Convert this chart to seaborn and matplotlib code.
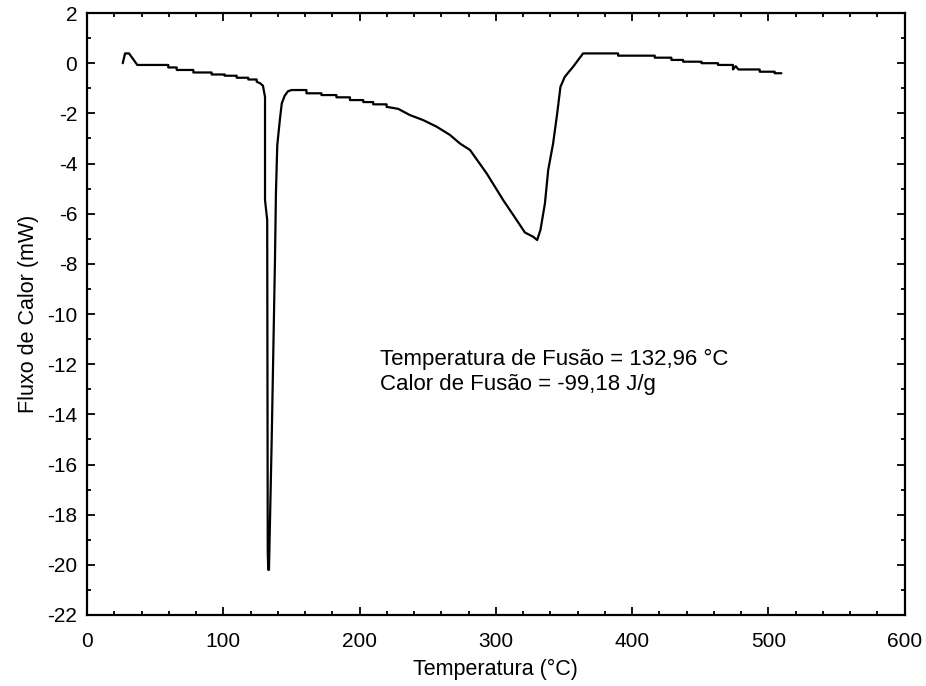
import matplotlib
matplotlib.use("Agg")
import matplotlib.pyplot as plt
import seaborn as sns
import pandas as pd
from matplotlib.ticker import MultipleLocator

temperatura = [26.2, 27.9, 30.8, 36.9, 59.6, 59.6, 65.8, 65.8, 78.0, 78.0, 91.4, 91.4,
               101.0, 101.0, 109.8, 109.8, 118.3, 118.3, 124.5, 124.5, 127.0, 129.1,
               130.6, 130.6, 132.2, 132.6, 133.0, 133.5, 135.5, 137.9, 138.6, 139.6,
               141.6, 142.9, 145.0, 147.4, 150.1, 161.0, 161.0, 172.0, 172.0, 183.0,
               183.0, 192.9, 192.9, 202.7, 202.7, 210.0, 210.0, 219.8, 219.8, 228.3,
               237.0, 246.7, 256.5, 266.3, 273.6, 281.0, 293.2, 305.4, 315.2, 321.3,
               327.4, 330.3, 332.7, 336.0, 338.4, 342.0, 345.0, 347.4, 350.6, 356.7,
               360.4, 364.0, 389.7, 389.7, 416.6, 416.6, 428.8, 428.8, 437.4, 437.4,
               450.9, 450.9, 463.0, 463.0, 474.0, 474.0, 476.0, 478.0, 493.6, 493.6,
               504.6, 504.6, 509.5]
fluxo = [0.0, 0.39, 0.39, -0.07, -0.07, -0.17, -0.17, -0.27, -0.27, -0.37, -0.37, -0.45,
         -0.45, -0.5, -0.5, -0.58, -0.58, -0.65, -0.65, -0.74, -0.8, -0.9,
         -1.35, -5.46, -6.25, -19.5, -20.2, -20.2, -15.0, -7.85, -5.2, -3.26,
         -2.2, -1.6, -1.3, -1.12, -1.07, -1.07, -1.2, -1.2, -1.27, -1.27,
         -1.36, -1.36, -1.47, -1.47, -1.55, -1.55, -1.64, -1.64, -1.74, -1.82,
         -2.07, -2.27, -2.53, -2.86, -3.2, -3.46, -4.39, -5.46, -6.25, -6.75,
         -6.92, -7.05, -6.65, -5.59, -4.26, -3.2, -2.0, -0.94, -0.54, -0.14,
         0.13, 0.39, 0.39, 0.30, 0.30, 0.22, 0.22, 0.13, 0.13, 0.06,
         0.06, 0.0, 0.0, -0.07, -0.07, -0.25, -0.12, -0.25, -0.25, -0.34,
         -0.34, -0.4, -0.4]

anotacao = ["Temperatura de Fusão = 132,96 °C", "Calor de Fusão = -99,18 J/g"]

sns.set_style("white")
plt.rcParams['font.family'] = ['Liberation Sans', 'DejaVu Sans']
plt.rcParams['axes.unicode_minus'] = False
plt.rcParams['text.color'] = 'black'
plt.rcParams['axes.labelcolor'] = 'black'
plt.rcParams['xtick.color'] = 'black'
plt.rcParams['ytick.color'] = 'black'

df = pd.DataFrame({"Temperatura": temperatura, "Fluxo": fluxo})

fig = plt.figure(figsize=(9.26, 6.86), dpi=100)
ax = fig.add_axes([0.094, 0.1035, 0.883, 0.8775])
sns.lineplot(data=df, x="Temperatura", y="Fluxo", sort=False, estimator=None,
             color="black", linewidth=1.6, ax=ax)

ax.set_xlim(0, 600)
ax.set_ylim(-22, 2)
ax.xaxis.set_major_locator(MultipleLocator(100))
ax.xaxis.set_minor_locator(MultipleLocator(20))
ax.yaxis.set_major_locator(MultipleLocator(2))
ax.yaxis.set_minor_locator(MultipleLocator(1))
ax.tick_params(which="both", direction="in", top=True, right=True,
               bottom=True, left=True, width=1.3, colors="black")
ax.tick_params(which="major", length=6, labelsize=15)
ax.tick_params(which="minor", length=3)
ax.tick_params(axis="x", which="major", pad=12)
ax.tick_params(axis="y", which="major", pad=7)
for s in ax.spines.values():
    s.set_linewidth(1.6)
    s.set_color("black")

ax.set_xlabel("Temperatura (°C)", fontsize=15.5, labelpad=6)
ax.set_ylabel("Fluxo de Calor (mW)", fontsize=15.5, labelpad=6)

ax.text(215, -11.8, anotacao[0], fontsize=16, va="center", ha="left")
ax.text(215, -12.8, anotacao[1], fontsize=16, va="center", ha="left")

fig.savefig("out.png", dpi=100)
